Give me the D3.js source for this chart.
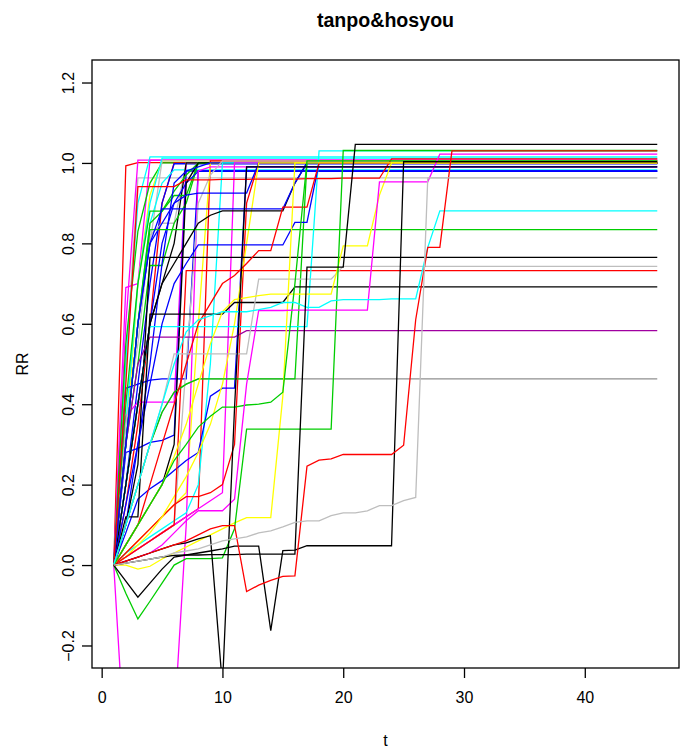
<!DOCTYPE html>
<html>
<head>
<meta charset="utf-8">
<script src="https://cdn.jsdelivr.net/npm/d3@7"></script>
<style>
body { margin: 0; background: #fff; }
text { font-family: "Liberation Sans", Arial, sans-serif; }
</style>
</head>
<body>
<div id="chart"></div>
<script>
// R default palette (+ two shades seen in the picture)
const K = "#000000", R = "#FF0000", G = "#00CD00", B = "#0000FF",
      C = "#00FFFF", M = "#FF00FF", Y = "#FFFF00", A = "#BEBEBE",
      D = "#909090", P = "#A000A0";

// last time step, every series stays at its final value until here
const tLast = 46;
const xTicks = [0, 10, 20, 30, 40];
const yTicks = [-0.2, 0, 0.2, 0.4, 0.6, 0.8, 1.0, 1.2];

// RR by t (t = 1, 2, 3, ...) for each series
const rrSeries = [
  [0, 0.1, 0.2, 0.3, 0.38, 0.43, 0.45, 0.463],
  [0, 0.5, 0.963],
  [0, 0.993, 1.001],
  [0, 0.6, 1.007],
  [0, 0.5, 0.9, 1.015],
  [0, 0.69, 0.70, 1.007],
  [0, 0.55, 0.83, 0.95, 1.0],
  [0, 0.3, 0.7, 0.92, 1.005],
  [0, 0.3, 0.6, 0.8, 1.005],
  [0, 0.35, 0.7, 0.9, 1.012],
  [0, 0.15, 0.35, 0.6, 0.9, 1.0],
  [0, 0.2, 0.45, 0.7, 0.9, 0.998],
  [0, 0.3, 0.6, 0.85, 0.95, 0.983],
  [0, 0.37, 0.405, 0.405, 0.405, 0.405, 1.0],
  [0, 0.35, 0.55, 0.82, 0.85, 0.85, 1.0],
  [0, 0.2, 0.4, 0.6, 0.7, 0.8, 1.0],
  [0, 0.28, 0.29, 0.305, 0.31, 0.323, 0.98],
  [0, 0.44, 0.45, 0.46, 0.463, 0.463, 0.463, 0.98],
  [0, 0.3, 0.6, 0.85, 0.88, 0.919, 0.919, 1.0],
  [0, 0.3, 0.5, 0.745, 0.745, 0.85, 0.9, 1.0],
  [0, 0.4, 0.7, 0.88, 0.88, 0.93, 0.97, 1.0],
  [0, 0.2, 0.4, 0.6, 0.8, 0.9, 0.95, 0.979],
  [0, 0.05, 0.1, 0.15, 0.2, 0.3, 0.95, 1.0],
  [0, 0.02, 0.04, 0.06, 0.08, 0.1, 0.12, 0.14, 1.005],
  [0, 0.03, 0.06, 0.09, 0.12, 0.15, 0.18, 0.6, 1.0],
  [0, -0.5, -0.7, -0.8, -0.7, -0.4, 0.1, 0.98, 0.99],
  [0, 0.1, 0.3, 0.5, 0.75, 0.95, 0.98, 0.99, 1.0],
  [0, 0.03, 0.05, 0.07, 0.09, 0.11, 0.13, 0.2, 0.5, 1.0],
  [0, 0.02, 0.04, 0.06, 0.08, 0.1, 0.5, 0.9, 0.97, 1.005],
  [0, 0.02, 0.04, 0.06, 0.08, 0.1, 0.12, 0.14, 0.16, 0.18, 1.0],
  [0, 0.08, 0.164, 0.19, 0.21, 0.235, 0.26, 0.28, 0.42, 0.44, 0.44, 0.99],
  [0, 0.03, 0.06, 0.09, 0.12, 0.15, 0.17, 0.17, 0.18, 0.2, 0.3, 0.9, 1.0],
  [0, 0.3, 0.6, 0.8, 0.85, 0.9, 0.92, 0.925, 0.925, 0.925, 0.925, 0.925, 1.0],
  [0, 0.02, 0.05, 0.08, 0.12, 0.17, 0.22, 0.28, 0.35, 0.45, 0.6, 0.8, 1.0],
  [0, 0.3, 0.6, 0.834],
  [0, 0.1, 0.25, 0.765],
  [0, 0.3, 0.5, 0.567, 0.567, 0.567, 0.567, 0.567, 0.567, 0.567, 0.567, 0.583],
  [0, 0.02, 0.04, 0.06, 0.08, 0.1, 0.732],
  [0, 0.1, 0.2, 0.3, 0.38, 0.43, 0.45, 0.463, 0.463, 0.463, 0.463, 0.463, 0.463, 0.463,
   0.463, 0.463, 1.0],
  [0, 0.2, 0.4, 0.593, 0.593, 0.593, 0.593, 0.593, 0.593, 0.593, 0.593, 0.593, 0.593,
   0.593, 0.593, 0.593, 0.593, 1.03],
  [0, 0.2, 0.4, 0.6, 0.7, 0.75, 0.8, 0.85, 0.87, 0.881, 0.881, 0.881, 0.881, 0.881,
   0.881, 0.95, 1.0],
  [0, 0.15, 0.3, 0.45, 0.6, 0.7, 0.75, 0.796, 0.796, 0.796, 0.796, 0.796, 0.796, 0.796,
   0.796, 0.852, 0.852, 1.0],
  [0, 0.3, 0.6, 0.8, 0.886, 0.886, 0.886, 0.886, 0.886, 0.886, 0.886, 0.886, 0.886,
   0.886, 0.886, 0.95, 1.0],
  [0, 0.05, 0.1, 0.2, 0.3, 0.4, 0.5, 0.6, 0.65, 0.7, 0.72, 0.75, 0.782, 0.782, 0.89,
   0.89, 0.89, 1.0],
  [0, 0.45, 0.941, 0.941, 0.941, 0.941, 0.958, 0.958, 0.958, 0.959, 0.959, 0.959, 0.96,
   0.96, 0.96, 0.96, 0.961, 0.961, 0.961, 0.962, 0.962, 0.962, 0.962, 1.01],
  [0, 0.12, 0.12, 0.624, 0.624, 0.624, 0.624, 0.624, 0.624, 0.624, 0.653, 0.653, 0.653,
   0.653, 0.653, 0.692],
  [0, 0.1, 0.2, 0.3, 0.4, 0.525, 0.525, 0.525, 0.525, 0.525, 0.525, 0.525, 0.711, 0.711,
   0.711, 0.711, 0.711, 0.711, 0.711, 0.743],
  [0, 0.05, 0.1, 0.15, 0.2, 0.27, 0.35, 0.45, 0.55, 0.63, 0.66, 0.665, 0.67, 0.674,
   0.674, 0.674, 0.674, 0.674, 0.674, 0.794, 0.794, 0.794, 0.92, 1.0],
  [0, 0, -0.01, -0.003, 0.015, 0.03, 0.045, 0.06, 0.075, 0.09, 0.105, 0.118, 0.118,
   0.118, 0.42, 1.0],
  [0, 0.05, 0.1, 0.15, 0.2, 0.26, 0.3, 0.343, 0.37, 0.393, 0.393, 0.398, 0.4, 0.405,
   0.43, 0.7, 1.005],
  [0, -0.07, -0.134, -0.09, -0.045, 0, 0.016, 0.016, 0.016, 0.018, 0.09, 0.338, 0.338,
   0.338, 0.338, 0.338, 0.338, 0.338, 0.338, 1.031],
  [0, 0.01, 0.02, 0.03, 0.05, 0.08, 0.11, 0.135, 0.135, 0.135, 0.164, 0.45, 0.633,
   0.633, 0.633, 0.634, 0.634, 0.634, 0.634, 0.634, 0.634, 0.634, 0.953, 0.953, 0.953,
   0.953, 0.953, 1.022],
  [0, 0.1, 0.2, 0.3, 0.4, 0.5, 0.58, 0.61, 0.62, 0.63, 0.63, 0.63, 0.635, 0.641, 0.653,
   0.653, 0.641, 0.641, 0.657, 0.66, 0.66, 0.66, 0.66, 0.662, 0.662, 0.662, 0.79, 0.881],
  [0, 0.01, 0.02, 0.03, 0.04, 0.05, 0.055, 0.065, 0.073, -0.3, 0.39, 0.99],
  [0, 0.005, 0.01, 0.015, 0.02, 0.024, 0.025, 0.025, 0.026, 0.026, 0.026, 0.027, 0.027,
   0.027, 0.027, 0.027, 0.741, 0.741, 0.741, 0.741, 1.046],
  [0, -0.04, -0.08, -0.045, -0.01, 0.02, 0.025, 0.03, 0.035, 0.04, 0.047, 0.047, 0.047,
   -0.163, 0.036, 0.037, 0.048, 0.048, 0.048, 0.048, 0.048, 0.048, 0.048, 0.048, 1.003],
  [0, 0.01, 0.02, 0.03, 0.04, 0.05, 0.06, 0.075, 0.09, 0.098, 0.098, -0.066, -0.05,
   -0.038, -0.028, -0.027, 0.246, 0.261, 0.264, 0.275, 0.275, 0.275, 0.275, 0.275,
   0.298, 0.61, 0.79, 0.79, 1.03],
  [0, 0.005, 0.01, 0.015, 0.02, 0.03, 0.035, 0.04, 0.05, 0.06, 0.065, 0.07, 0.08, 0.085,
   0.095, 0.106, 0.11, 0.11, 0.123, 0.13, 0.13, 0.135, 0.148, 0.148, 0.16, 0.168, 0.963]
];

const rrColors = [
  D, A,
  R, M, C, M, G, Y, A, C, R, B,
  C, M, A, K, B, B, G, G, G, B,
  K, R, Y, M, B, C, A, M, B, R,
  B, Y, G, K, P, R, G, C, K, B,
  B, R, R, K, A, Y, Y, G, G, M,
  C, K, K, K, R, A
];

var margin = {top: 60, left: 92},
    width = 684, height = 751,
    plotRight = 679, plotBottom = 668;

var svg = d3.select("#chart")
  .append("svg")
  .attr("width", width)
  .attr("height", height);

var x = d3.scaleLinear()
  .domain([-0.8, 47.8])
  .range([margin.left, plotRight]);

var y = d3.scaleLinear()
  .domain([-0.256, 1.256])
  .range([plotBottom, margin.top]);

svg.append("clipPath")
  .attr("id", "plotclip")
  .append("rect")
  .attr("x", margin.left)
  .attr("y", margin.top)
  .attr("width", plotRight - margin.left)
  .attr("height", plotBottom - margin.top);

var line = d3.line()
  .x(function(d) { return x(d[0]); })
  .y(function(d) { return y(d[1]); });

svg.append("g")
  .attr("clip-path", "url(#plotclip)")
  .selectAll("path")
  .data(rrSeries)
  .enter()
  .append("path")
  .attr("fill", "none")
  .attr("stroke", function(d, i) { return rrColors[i]; })
  .attr("stroke-width", 1.3)
  .attr("d", function(d) {
    var pts = d.map(function(v, j) { return [j + 1, v]; });
    pts.push([tLast, d[d.length - 1]]);
    return line(pts);
  });

// box
svg.append("rect")
  .attr("x", margin.left)
  .attr("y", margin.top)
  .attr("width", plotRight - margin.left)
  .attr("height", plotBottom - margin.top)
  .attr("fill", "none")
  .attr("stroke", "#000")
  .attr("stroke-width", 1.3);

// x axis
var gx = svg.append("g")
  .attr("transform", "translate(0," + plotBottom + ")")
  .call(d3.axisBottom(x).tickValues(xTicks).tickSize(10).tickPadding(0).tickFormat(d3.format("d")));
gx.select(".domain").remove();
gx.selectAll("line").attr("stroke-width", 1.3);
gx.selectAll("text")
  .attr("dy", null)
  .attr("y", 35)
  .style("font-size", "16px")
  .attr("fill", "#000");

// y axis
var gy = svg.append("g")
  .attr("transform", "translate(" + margin.left + ",0)")
  .call(d3.axisLeft(y).tickValues(yTicks).tickSize(10).tickFormat(d3.format(".1f")));
gy.select(".domain").remove();
gy.selectAll("line").attr("stroke-width", 1.3);
gy.selectAll("text")
  .attr("transform", "rotate(-90)")
  .attr("x", 0)
  .attr("y", -18)
  .attr("dy", null)
  .attr("text-anchor", "middle")
  .style("font-size", "16px")
  .attr("fill", "#000");

// titles
svg.append("text")
  .attr("x", (margin.left + plotRight) / 2)
  .attr("y", 27)
  .attr("text-anchor", "middle")
  .style("font-size", "19.6px")
  .style("font-weight", "bold")
  .text("tanpo&hosyou");

svg.append("text")
  .attr("x", (margin.left + plotRight) / 2)
  .attr("y", 746)
  .attr("text-anchor", "middle")
  .style("font-size", "16px")
  .text("t");

svg.append("text")
  .attr("transform", "translate(28," + (margin.top + plotBottom) / 2 + ") rotate(-90)")
  .attr("text-anchor", "middle")
  .style("font-size", "16px")
  .text("RR");
</script>
</body>
</html>
